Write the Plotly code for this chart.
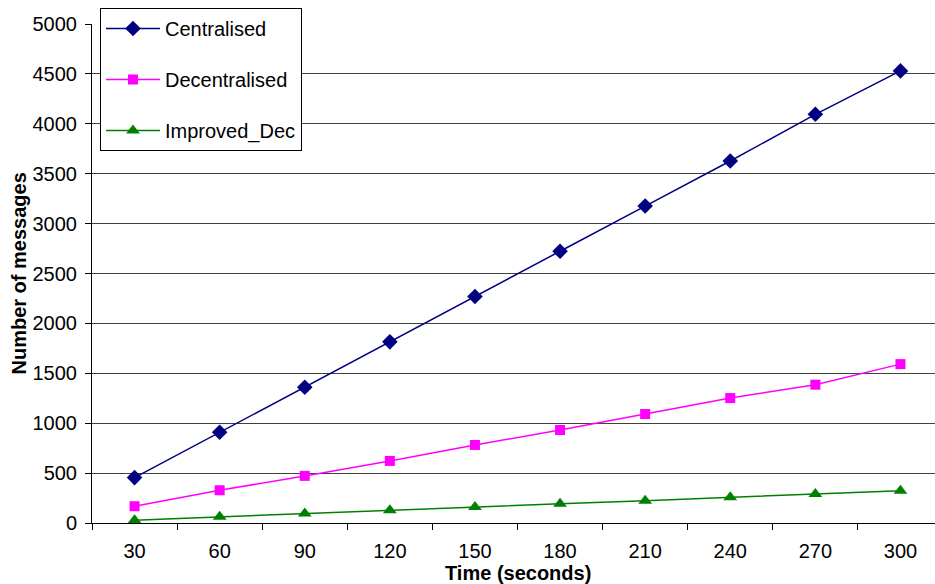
import plotly.graph_objects as go

times = ["30", "60", "90", "120", "150", "180", "210", "240", "270", "300"]
centralised = [455, 910, 1360, 1815, 2270, 2723, 3176, 3627, 4095, 4530]
decentralised = [168, 328, 472, 622, 782, 932, 1092, 1252, 1386, 1592]
improved_dec = [28, 62, 95, 128, 160, 192, 224, 258, 290, 323]

W, H = 935, 584
L, R, T, B = 92, 0, 24, 61
pw = W - L - R
ph = H - T - B

font_family = "Liberation Sans, Arial, sans-serif"

fig = go.Figure()
series = [
    ("Centralised", centralised, "#000080", "diamond", 12),
    ("Decentralised", decentralised, "#FF00FF", "square", 10),
    ("Improved_Dec", improved_dec, "#008000", "triangle-up", 12),
]
for name, vals, col, sym, sz in series:
    fig.add_trace(go.Scatter(
        x=times, y=vals, name=name, legendgroup=name,
        mode="lines+markers",
        line=dict(color=col, width=1.5),
        marker=dict(symbol=sym, size=sz, color=col, line=dict(width=0)),
    ))

fig.update_layout(
    width=W, height=H,
    margin=dict(l=L, r=R, t=T, b=B, pad=0, autoexpand=False),
    paper_bgcolor="white", plot_bgcolor="white",
    font=dict(family=font_family, size=20, color="black"),
    showlegend=True,
    legend=dict(
        x=(100 - L) / pw, y=(H - B - 8) / ph,
        xanchor="left", yanchor="top",
        bgcolor="white", bordercolor="black", borderwidth=1,
        font=dict(size=20, color="black"),
        itemwidth=54, tracegroupgap=22,
    ),
    xaxis=dict(
        type="category", range=[-0.5, 9.406],
        showgrid=False, showline=True, linecolor="black", linewidth=1,
        ticks="outside", tickson="boundaries", ticklen=6, tickcolor="black",
        tickfont=dict(size=20), ticklabelstandoff=10,
        zeroline=False,
    ),
    yaxis=dict(
        range=[0, 5000], dtick=500,
        showgrid=True, gridcolor="#404040", gridwidth=1,
        showline=True, linecolor="black", linewidth=1,
        ticks="outside", ticklen=6, tickcolor="black",
        tickfont=dict(size=20), ticklabelstandoff=4,
        zeroline=False,
    ),
    annotations=[
        dict(text="<b>Time (seconds)</b>", xref="paper", yref="paper",
             x=(518 - L) / pw, y=0, xanchor="center", yanchor="middle",
             yshift=-50, showarrow=False, font=dict(size=20)),
        dict(text="<b>Number of messages</b>", xref="paper", yref="paper",
             x=0, y=0.5, xanchor="center", yanchor="middle", xshift=-(L - 18),
             textangle=-90, showarrow=False, font=dict(size=20)),
    ],
)

fig.write_html("out.html", config={"displayModeBar": False},
               post_script="document.body.style.margin='0';")
